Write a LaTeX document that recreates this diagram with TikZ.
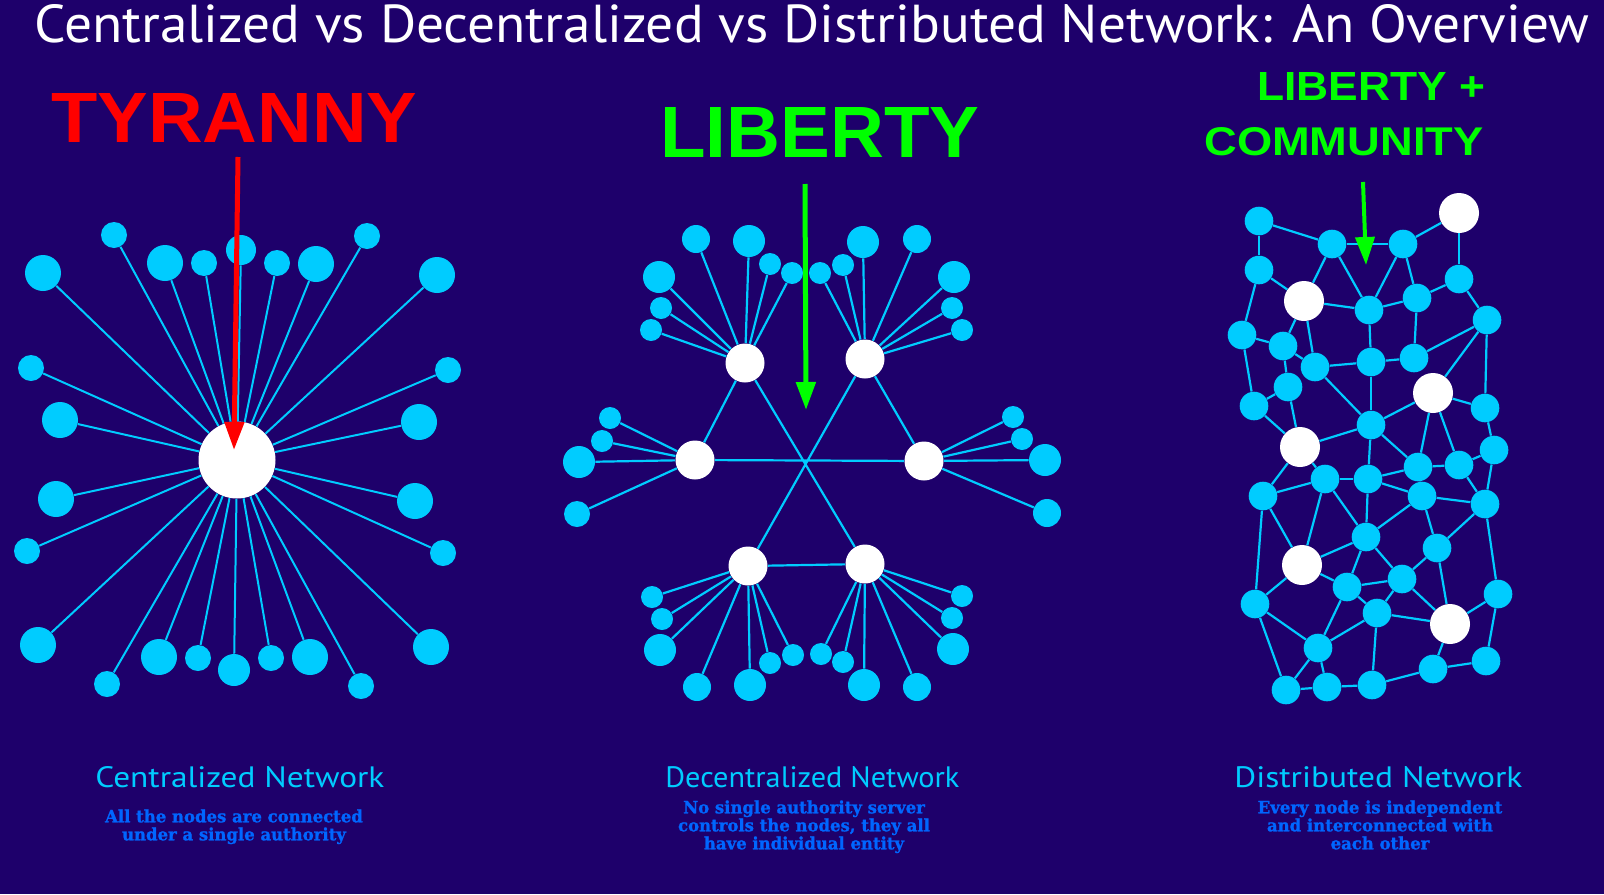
\documentclass[tikz,border=0pt]{standalone}
\usepackage{fontspec}
\usepackage{graphicx}
\usetikzlibrary{arrows.meta}
\setmainfont{PT Sans}
\newfontfamily\bigfont{Liberation Sans}
\newfontfamily\descfont{DejaVu Serif}[FakeStretch=0.97,BoldFeatures={FakeBold=1.2}]
\definecolor{bgnavy}{RGB}{30,0,107}
\definecolor{netcyan}{RGB}{0,204,255}
\definecolor{descblue}{RGB}{0,102,255}
\definecolor{libgreen}{RGB}{0,255,0}
\newlength\pxu
\setlength\pxu{0.5pt}
\newcommand{\fitbox}[3]{\resizebox{#1\pxu}{#2\pxu}{#3}}
\tikzset{leaf/.style={
    circle,
    fill=netcyan,
    inner sep=0pt
  },
  hub/.style={leaf,fill=white},
  link/.style={draw=netcyan,line width=1.1pt},
  txt/.style={inner sep=0pt,anchor=base west},
  desc/.style={
    inner sep=0pt,
    anchor=north,
    align=center,
    text=descblue,
    font=\descfont\bfseries\fontsize{8.5pt}{9pt}\selectfont
  },
  pointer/.style={-{Triangle[length=14pt,width=9.5pt]},line width=2.5pt},
}
\begin{document}
\begin{tikzpicture}[x=0.5pt,y=-0.5pt]
  \fill[bgnavy] (0,0) rectangle (1604,894);
  \node[txt,text=white] (title) at (34,42)
    {\fitbox{1555}{38}{Centralized vs Decentralized vs Distributed Network: An Overview}};
  \node[txt,text=red] (tyranny) at (51,142) {\fitbox{366}{49}{\bigfont\bfseries TYRANNY}};
  \node[txt,text=libgreen] (liberty) at (660,157) {\fitbox{319}{50}{\bigfont\bfseries LIBERTY}};
  \node[txt,text=libgreen] (libplus) at (1257,100) {\fitbox{228}{28}{\bigfont\bfseries LIBERTY +}};
  \node[txt,text=libgreen] (community) at (1204,155) {\fitbox{279}{28}{\bigfont\bfseries COMMUNITY}};

  % centralized
  \node[hub,minimum size=38.5pt] (cc) at (237,460) {};
  \foreach \x/\y/\r [count=\i] in {114/235/13,43/273/18,165/263/18,204/263/13,241/250/15,
      277/263/13,316/264/18,367/236/13,437/275/18,31/368/13,60/420/18,448/370/13,419/422/18,
      56/499/18,415/501/18,27/551/13,443/553/13,38/645/18,431/647/18,107/684/13,159/657/18,
      198/658/13,234/670/16,271/658/13,310/657/18,361/686/13}{
    \node[leaf,minimum size=\r pt] (c\i) at (\x,\y) {};
    \draw[link,line width=1pt] (cc) -- (c\i);
  }

  % decentralized
  \node[hub,minimum size=19.5pt] (h1) at (745,363) {};
  \node[hub,minimum size=19.5pt] (h2) at (865,359) {};
  \node[hub,minimum size=19.5pt] (h3) at (695,460) {};
  \node[hub,minimum size=19.5pt] (h4) at (924,461) {};
  \node[hub,minimum size=19.5pt] (h5) at (748,566) {};
  \node[hub,minimum size=19.5pt] (h6) at (865,564) {};
  \draw[link] (h1) -- (h6) (h2) -- (h5) (h3) -- (h4)
    (h1) -- (h3) (h2) -- (h4) (h5) -- (h6);
  \foreach \h/\x/\y/\r [count=\i] in {h1/696/239/14,h1/749/241/16,h1/770/264/11,h1/792/273/11,
      h1/659/277/16,h1/661/308/11,h1/651/330/11,
      h2/917/239/14,h2/863/242/16,h2/843/265/11,h2/820/273/11,h2/954/277/16,h2/952/308/11,
      h2/962/330/11,
      h3/610/418/11,h3/602/441/11,h3/579/462/16,h3/577/514/13,
      h4/1013/417/11,h4/1022/439/11,h4/1045/460/16,h4/1047/513/14,
      h5/652/597/11,h5/662/619/11,h5/660/650/16,h5/697/687/14,h5/750/685/16,h5/770/663/11,
      h5/793/655/11,
      h6/962/596/11,h6/952/618/11,h6/953/649/16,h6/917/687/14,h6/864/685/16,h6/843/662/11,
      h6/821/654/11}{
    \node[leaf,minimum size=\r pt] (m\i) at (\x,\y) {};
    \draw[link] (\h) -- (m\i);
  }

  % distributed
  \foreach \n/\x/\y in {d1/1259/221,d2/1332/244,d3/1403/244,d4/1259/270,d5/1369/310,
      d6/1417/298,d7/1459/279,d8/1242/335,d9/1283/346,d10/1315/367,d11/1371/362,
      d12/1414/358,d13/1487/320,d14/1288/387,d15/1254/406,d16/1485/408,d17/1371/425,
      d18/1494/450,d19/1418/467,d20/1459/465,d21/1325/479,d22/1368/479,d23/1263/496,
      d24/1422/496,d25/1485/504,d26/1366/537,d27/1437/548,d28/1347/587,d29/1402/579,
      d30/1498/594,d31/1255/604,d32/1377/613,d33/1318/648,d34/1433/669,d35/1486/661,
      d36/1286/690,d37/1327/687,d38/1372/685}
    \node[leaf,minimum size=14.3pt] (\n) at (\x,\y) {};
  \foreach \n/\x/\y in {w1/1459/213,w2/1304/301,w3/1433/393,w4/1300/447,w5/1302/565,
      w6/1450/624}
    \node[hub,minimum size=20pt] (\n) at (\x,\y) {};
  \foreach \a/\b in {d1/d2,d1/d4,d2/d3,d3/w1,w1/d7,d2/w2,d2/d5,d3/d5,d3/d6,d4/w2,d4/d8,
      w2/d5,d5/d6,d6/d7,d7/d13,w2/d9,w2/d10,d5/d11,d6/d12,d8/d9,d8/d15,d9/d10,d9/d14,
      d10/d11,d11/d12,d12/d13,d13/w3,d13/d16,d10/d17,d11/d17,d14/d15,d14/w4,d15/w4,
      d17/w3,w3/d16,w3/d19,w3/d20,d16/d18,d17/w4,d17/d19,d17/d22,d19/d20,d20/d18,
      w4/d21,w4/d23,d21/d22,d21/d23,d22/d19,d22/d24,d19/d24,d20/d25,d18/d25,d24/d25,
      d21/d26,d21/w5,d22/d26,d24/d26,d24/d27,d25/d27,d25/d30,d23/d31,d23/w5,d26/w5,
      d26/d28,d26/d29,d27/d29,d27/w6,w5/d28,w5/d31,d28/d29,d28/d32,d29/d32,d29/w6,
      d30/w6,d30/d35,d31/d33,d31/d36,d28/d33,d32/d33,d32/w6,d32/d38,w6/d34,d33/d36,
      d33/d37,d36/d37,d37/d38,d38/d34,d34/d35}
    \draw[link] (\a) -- (\b);

  % pointers
  \coordinate (tyrtop) at (238,157);
  \coordinate (tyrtip) at (234,450);
  \coordinate (libtop) at (805,184);
  \coordinate (libtip) at (806,410);
  \coordinate (comtop) at (1363,182);
  \coordinate (comtip) at (1366,265);
  \draw[pointer,red] (tyrtop) -- (tyrtip);
  \draw[pointer,libgreen] (libtop) -- (libtip);
  \draw[pointer,libgreen,line width=2pt] (comtop) -- (comtip);

  % captions
  \node[txt,text=netcyan] (cname) at (95,787) {\fitbox{289}{21}{Centralized Network}};
  \node[txt,text=netcyan] (dname) at (665,787) {\fitbox{294}{21}{Decentralized Network}};
  \node[txt,text=netcyan] (sname) at (1234,787) {\fitbox{288}{21}{Distributed Network}};
  \node[desc] (cdesc) at (234,809) {All the nodes are connected\\under a single authority};
  \node[desc] (ddesc) at (804,800) {No single authority server\\controls the nodes, they all\\have individual entity};
  \node[desc] (sdesc) at (1380,800) {Every node is independent\\and interconnected with\\each other};
\end{tikzpicture}
\end{document}
